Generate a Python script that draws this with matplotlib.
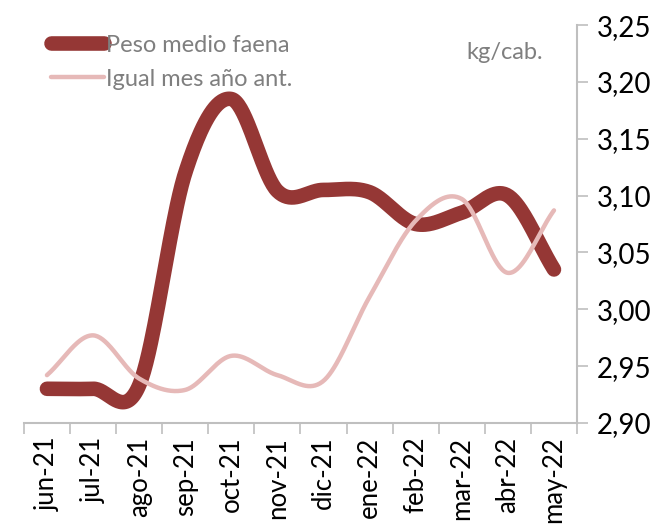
import numpy as np
import matplotlib.pyplot as plt
from matplotlib.ticker import FixedLocator, FuncFormatter

meses = ['jun-21', 'jul-21', 'ago-21', 'sep-21', 'oct-21', 'nov-21',
         'dic-21', 'ene-22', 'feb-22', 'mar-22', 'abr-22', 'may-22']
peso_medio = [2.930, 2.930, 2.933, 3.120, 3.185, 3.104,
              3.105, 3.103, 3.075, 3.085, 3.100, 3.035]
igual_mes_ant = [2.942, 2.977, 2.939, 2.929, 2.959, 2.942,
                 2.937, 3.011, 3.078, 3.097, 3.032, 3.087]


def suavizar(y, n=40):
    # curva tipo Excel: Bezier cubica con tangentes de Catmull-Rom
    y = np.asarray(y, dtype=float)
    x = np.arange(len(y), dtype=float)
    yp = np.concatenate([[y[0]], y, [y[-1]]])
    xs, ys = [], []
    t = np.linspace(0, 1, n)
    for i in range(len(y) - 1):
        p0, p1 = yp[i + 1], yp[i + 2]
        m0 = (yp[i + 2] - yp[i]) / 2
        m1 = (yp[i + 3] - yp[i + 1]) / 2
        if i == 0:
            m0 = p1 - p0
        if i == len(y) - 2:
            m1 = p1 - p0
        h00 = 2 * t**3 - 3 * t**2 + 1
        h10 = t**3 - 2 * t**2 + t
        h01 = -2 * t**3 + 3 * t**2
        h11 = t**3 - t**2
        xs.append(x[i] + t)
        ys.append(h00 * p0 + h10 * m0 + h01 * p1 + h11 * m1)
    return np.concatenate(xs), np.concatenate(ys)


plt.rcParams['font.family'] = ['Lato', 'DejaVu Sans']

fig = plt.figure(figsize=(6.64, 5.24), dpi=100)
ax = fig.add_axes([0.036, 0.193, 0.833, 0.759])

xp, yp = suavizar(peso_medio)
xi, yi = suavizar(igual_mes_ant)
ax.plot(xp, yp, color='#953735', lw=10.5, solid_capstyle='round',
        label='Peso medio faena', zorder=2)
ax.plot(xi, yi, color='#E6B9B8', lw=3.2, solid_capstyle='round',
        label='Igual mes año ant.', zorder=3)

ax.set_xlim(-0.5, len(meses) - 0.5)
ax.set_ylim(2.90, 3.25)

ax.yaxis.tick_right()
ax.set_yticks(np.arange(2.90, 3.251, 0.05))
ax.yaxis.set_major_formatter(FuncFormatter(lambda v, p: f'{v:.2f}'.replace('.', ',')))
ax.tick_params(axis='y', which='major', direction='out', length=8, width=1.2,
               color='#BFBFBF', labelsize=20, labelcolor='black', pad=6)

ax.set_xticks(range(len(meses)))
ax.set_xticklabels(meses, rotation=90, fontsize=18.5)
ax.xaxis.set_minor_locator(FixedLocator(np.arange(-0.5, len(meses), 1.0)))
ax.tick_params(axis='x', which='major', length=0, pad=10)
ax.tick_params(axis='x', which='minor', direction='out', length=8, width=1.2,
               color='#BFBFBF')

for lado in ['left', 'top']:
    ax.spines[lado].set_visible(False)
for lado in ['bottom', 'right']:
    ax.spines[lado].set_color('#BFBFBF')
    ax.spines[lado].set_linewidth(1.5)

leg = ax.legend(loc='upper left', bbox_to_anchor=(0.062, 0.952),
                bbox_transform=fig.transFigure, frameon=False,
                fontsize=17, handlelength=2.25, handletextpad=0.1,
                labelspacing=0.55, borderaxespad=0)
for txt in leg.get_texts():
    txt.set_color('#7F7F7F')

fig.text(0.703, 0.9, 'kg/cab.', fontsize=17, color='#7F7F7F',
         ha='left', va='center')

fig.savefig('out.png', dpi=100)
